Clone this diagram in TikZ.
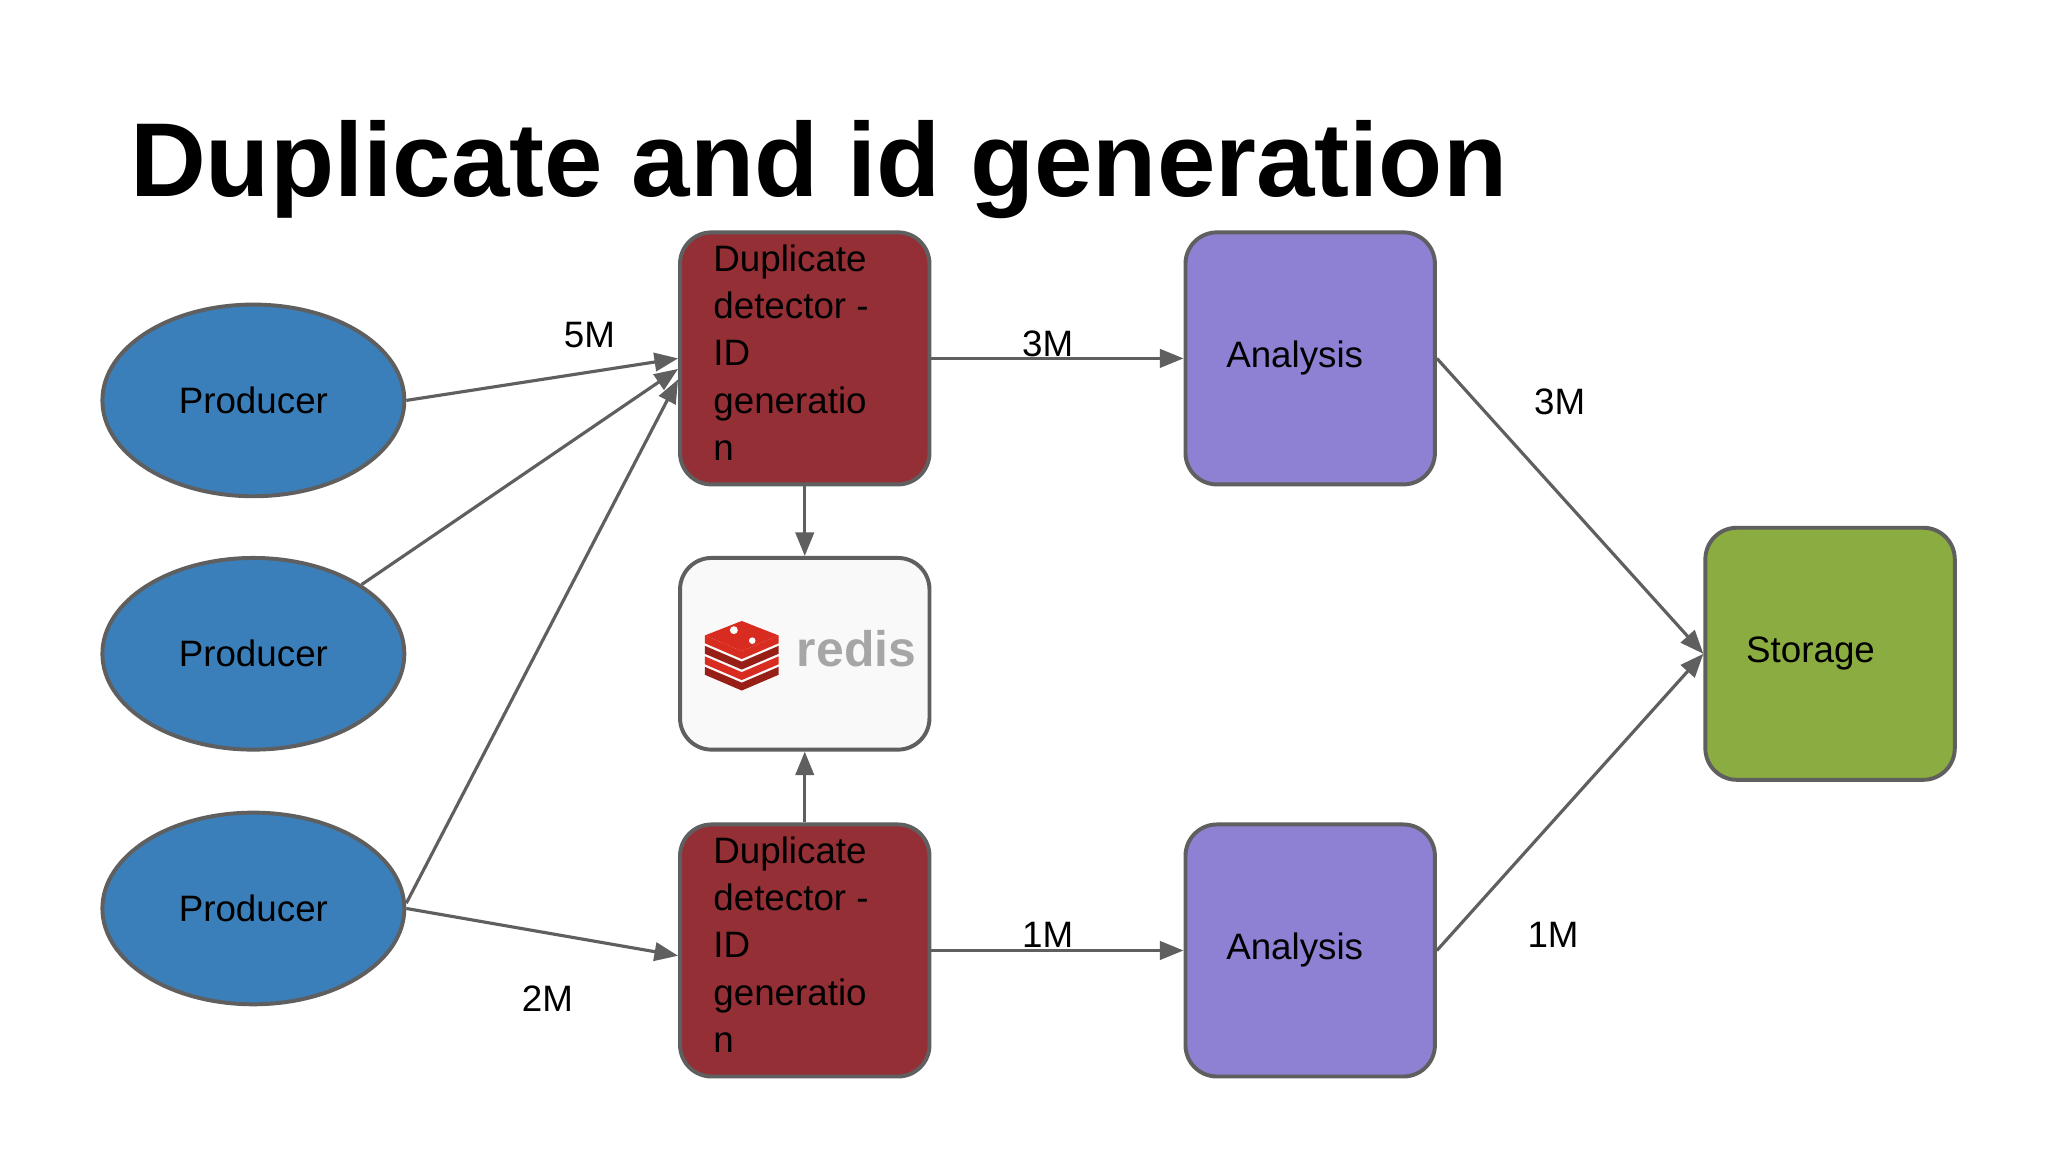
\documentclass[tikz,border=0pt]{standalone}
\usepackage{fontspec}
\setmainfont{Liberation Sans}
\usetikzlibrary{shapes.geometric,arrows.meta}
\definecolor{pblue}{HTML}{3B7FBA}
\definecolor{dred}{HTML}{943035}
\definecolor{apurple}{HTML}{8E80D3}
\definecolor{sgreen}{HTML}{8BAC40}
\definecolor{bord}{HTML}{5F5F5F}
\definecolor{rlogo}{HTML}{D82C20}
\begin{document}
\begin{tikzpicture}[x=0.5pt,y=-0.5pt,
  prod/.style={ellipse,draw=bord,line width=1.5pt,fill=pblue,minimum width=115pt,minimum height=73pt,font=\fontsize{14}{18}\selectfont},
  box/.style={rounded corners=12pt,draw=bord,line width=1.5pt,minimum width=95pt,minimum height=96pt},
  lbl/.style={font=\fontsize{14}{18}\selectfont},
  arr/.style={draw=bord,line width=1.2pt,-{Triangle[length=9pt,width=7pt]}},
  ln/.style={draw=bord,line width=1.2pt}]
\useasboundingbox (0,0) rectangle (1560,877.5);
\fill[white] (0,0) rectangle (1560,877.5);
\node[anchor=base west,font=\fontsize{40}{48}\selectfont\bfseries] (title) at (92,150) {Duplicate and id generation};
\node[prod] (p1) at (193,305) {Producer};
\node[prod] (p2) at (193,498) {Producer};
\node[prod] (p3) at (193,692) {Producer};
\node[box,fill=dred] (d1) at (613,273) {};
\node[box,fill=dred] (d2) at (613,724) {};
\node[box,fill=white!95!gray,minimum height=73pt] (r) at (613,498) {};
\node[box,fill=apurple] (a1) at (998,273) {};
\node[box,fill=apurple] (a2) at (998,724) {};
\node[box,fill=sgreen] (s) at (1394,498) {};
\node[lbl,anchor=west] (a1t) at (927,273) {Analysis};
\node[lbl,anchor=west] (a2t) at (927,724) {Analysis};
\node[lbl,anchor=west] (st) at (1323,498) {Storage};
\node[lbl,anchor=north west,align=left,inner sep=0pt] (d1t) at (543,186) {Duplicate\\detector -\\ID\\generatio\\n};
\node[lbl,anchor=north west,align=left,inner sep=0pt] (d2t) at (543,637) {Duplicate\\detector -\\ID\\generatio\\n};
% redis logo
\begin{scope}[shift={(565,500)}]
\fill[rlogo!70!black] (-28,8) -- (0,20) -- (28,8) -- (28,14) -- (0,26) -- (-28,14) -- cycle;
\fill[rlogo] (-28,0) -- (0,12) -- (28,0) -- (28,6) -- (0,18) -- (-28,6) -- cycle;
\fill[rlogo!70!black] (-28,-8) -- (0,4) -- (28,-8) -- (28,-2) -- (0,10) -- (-28,-2) -- cycle;
\fill[rlogo] (-28,-16) -- (0,-4) -- (28,-16) -- (28,-10) -- (0,2) -- (-28,-10) -- cycle;
\fill[rlogo] (-28,-16) -- (0,-27) -- (28,-16) -- (0,-4) -- cycle;
\fill[white] (-6,-20) circle (3);
\fill[white] (8,-12) circle (2.5);
\end{scope}
\node[font=\fontsize{19}{20}\selectfont\bfseries,text=gray!70,anchor=west] (rt) at (600,494) {redis};
\draw[arr] (p1.east) -- (d1.west);
\draw[arr] (p2.north east) -- ([yshift=-4]d1.west);
\draw[arr] (p3.east) ++(0,-4) -- ([yshift=-8]d1.west);
\draw[arr] (p3.east) -- ([yshift=-2]d2.west);
\draw[arr] (d1.east) -- (a1.west);
\draw[arr] (d2.east) -- (a2.west);
\draw[arr] (d1.south) -- (r.north);
\draw[arr] (d2.north) -- (r.south);
\draw[arr] (a1.east) -- (s.west);
\draw[arr] (a2.east) -- (s.west);
\node[lbl] (l5) at (449,255) {5M};
\node[lbl] (l3a) at (798,262) {3M};
\node[lbl] (l3b) at (1188,306) {3M};
\node[lbl] (l2) at (417,761) {2M};
\node[lbl] (l1a) at (798,712) {1M};
\node[lbl] (l1b) at (1183,712) {1M};
\end{tikzpicture}
\end{document}
